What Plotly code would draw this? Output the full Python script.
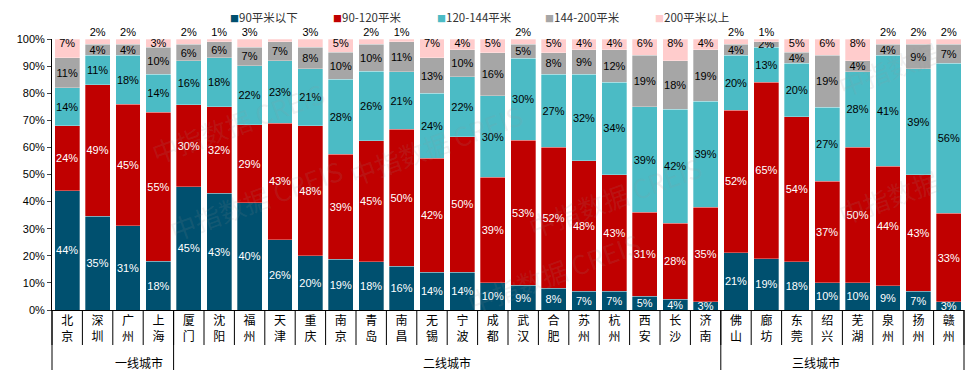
import plotly.graph_objects as go

cities = ["北京", "深圳", "广州", "上海",
          "厦门", "沈阳", "福州", "天津", "重庆", "南京", "青岛", "南昌", "无锡", "宁波",
          "成都", "武汉", "合肥", "苏州", "杭州", "西安", "长沙", "济南",
          "佛山", "廊坊", "东莞", "绍兴", "芜湖", "泉州", "扬州", "赣州"]
tiers = ["一线城市", "二线城市", "三线城市"]
tier_sizes = [4, 18, 8]

series_names = ["90平米以下", "90-120平米", "120-144平米", "144-200平米", "200平米以上"]
s_lt90 = [44, 35, 31, 18, 45, 43, 40, 26, 20, 19, 18, 16, 14, 14, 10, 9, 8, 7, 7, 5, 4, 3,
          21, 19, 18, 10, 10, 9, 7, 3]
s_90_120 = [24, 49, 45, 55, 30, 32, 29, 43, 48, 39, 45, 50, 42, 50, 39, 53, 52, 48, 43, 31, 28, 35,
            52, 65, 54, 37, 50, 44, 43, 33]
s_120_144 = [14, 11, 18, 14, 16, 18, 22, 23, 21, 28, 26, 21, 24, 22, 30, 30, 27, 32, 34, 39, 42, 39,
             20, 13, 20, 27, 28, 41, 39, 56]
s_144_200 = [11, 4, 4, 10, 6, 6, 7, 7, 8, 10, 10, 11, 13, 10, 16, 5, 8, 9, 12, 19, 18, 19,
             4, 2, 4, 19, 4, 4, 9, 7]
s_gt200 = [7, 2, 2, 3, 2, 1, 3, 1, 3, 5, 2, 1, 7, 4, 5, 2, 5, 4, 4, 6, 8, 4,
           2, 1, 5, 6, 8, 2, 2, 2]
y_ticks = [0, 10, 20, 30, 40, 50, 60, 70, 80, 90, 100]
y_tick_labels = [f"{v}%" for v in y_ticks]

colors = ["#00506F", "#C00000", "#4BBBC5", "#A6A6A6", "#FFCCCC"]
text_colors = ["white", "white", "black", "black", "black"]
all_series = [s_lt90, s_90_120, s_120_144, s_144_200, s_gt200]

FONT = "Liberation Sans, Arial, Noto Sans CJK SC"
CJK = "Noto Sans CJK SC, Liberation Sans"

fig = go.Figure()
for k, (name, vals) in enumerate(zip(series_names, all_series)):
    bar_text = [f"{v}%" for v in vals] if k < 4 else None
    fig.add_trace(go.Bar(
        x=cities, y=vals, name=name,
        marker=dict(color=colors[k], line=dict(width=0.5, color="rgba(255,255,255,0.6)")),
        text=bar_text, textposition="inside" if k < 4 else "none", textangle=0,
        insidetextanchor="middle", constraintext="none",
        insidetextfont=dict(color=text_colors[k], size=11, family=FONT),
        cliponaxis=False, hoverinfo="skip", showlegend=False,
    ))

# labels of the top (200平米以上) segments, anchored at the top of each 100% bar
top_text = []
top_pos = []
for c, v in zip(cities, s_gt200):
    if c == "天津":
        top_text.append("")
        top_pos.append("bottom center")
    elif v <= 3 and c != "上海":
        top_text.append(f"{v}%")
        top_pos.append("top center")
    else:
        top_text.append(f"{v}%")
        top_pos.append("bottom center")
fig.add_trace(go.Scatter(
    x=cities, y=[100] * len(cities), mode="text", text=top_text, textposition=top_pos,
    textfont=dict(color="black", size=11, family=FONT), showlegend=False,
    cliponaxis=False, hoverinfo="skip",
))

n = len(cities)
# page body has an 8px default margin; figure is sized/offset to compensate
PAGE_OFF = 8
fig_w, fig_h = 976 - PAGE_OFF, 378 - PAGE_OFF
plot_w, plot_h = 912, 271
left_page, top_page = 52, 39
m_l, m_t = left_page - PAGE_OFF, top_page - PAGE_OFF

shapes = []
for i in range(n + 1):
    xp = i / n
    shapes.append(dict(type="line", xref="paper", yref="paper", x0=xp, x1=xp,
                       y0=0, y1=-35 / plot_h, line=dict(color="black", width=1)))
b = 0
bounds = [0]
for s in tier_sizes:
    b += s
    bounds.append(b)
for bi in bounds:
    xp = bi / n
    shapes.append(dict(type="line", xref="paper", yref="paper", x0=xp, x1=xp,
                       y0=0, y1=-60 / plot_h, line=dict(color="black", width=1)))

annotations = []
for t, lo, hi in zip(tiers, bounds[:-1], bounds[1:]):
    annotations.append(dict(text=t, xref="paper", yref="paper", x=(lo + hi) / 2 / n,
                            y=-52 / plot_h, showarrow=False, yanchor="middle",
                            font=dict(size=12, family=CJK, color="black")))

# legend row (square marker + name), laid out like the original
legend_px = [228, 331, 435, 543, 653]
legend_y = (plot_h + top_page - 17) / plot_h
for name, col, px in zip(series_names, colors, legend_px):
    annotations.append(dict(
        text=f"<span style='color:{col};font-size:9px'>■</span>{name}",
        xref="paper", yref="paper", x=(px - left_page) / plot_w, y=legend_y,
        xanchor="left", yanchor="middle", showarrow=False,
        font=dict(size=11.5, family=CJK, color="#333333")))

wm = [("中指数据 CREIS", 0.10, 0.88), ("中指数据 CREIS", 0.42, 0.80), ("中指数据 CREIS", 0.72, 0.42),
      ("中指数据 CREIS", 0.12, 0.22), ("中指数据 CREIS", 0.55, -0.05), ("中指数据", 0.98, 1.03),
      ("中指数据", 0.98, 0.42)]
for t, xx, yy in wm:
    annotations.append(dict(text=t, xref="paper", yref="paper", x=xx, y=yy, showarrow=False,
                            textangle=-20, font=dict(size=26, family=CJK, color="rgba(150,150,150,0.14)")))

fig.update_layout(
    width=fig_w, height=fig_h,
    margin=dict(l=m_l, r=fig_w - m_l - plot_w, t=m_t, b=fig_h - m_t - plot_h, autoexpand=False),
    barmode="stack", barnorm="percent", bargap=0.18,
    plot_bgcolor="white", paper_bgcolor="white",
    font=dict(family=FONT, size=11, color="black"),
    showlegend=False,
    xaxis=dict(type="category", range=[-0.5, n - 0.5], showline=True, linecolor="black",
               linewidth=1, ticks="", tickmode="array", tickvals=cities,
               ticktext=["<br>".join(list(c)) for c in cities],
               tickfont=dict(size=12, family=CJK, color="black"), showgrid=False),
    yaxis=dict(range=[0, 100], tickvals=y_ticks, ticktext=y_tick_labels, showline=True,
               linecolor="black", linewidth=1, ticks="outside", ticklen=4, showgrid=False,
               zeroline=False, tickfont=dict(size=11, family=FONT, color="black")),
    shapes=shapes, annotations=annotations,
)

fig.write_html("out.html")
